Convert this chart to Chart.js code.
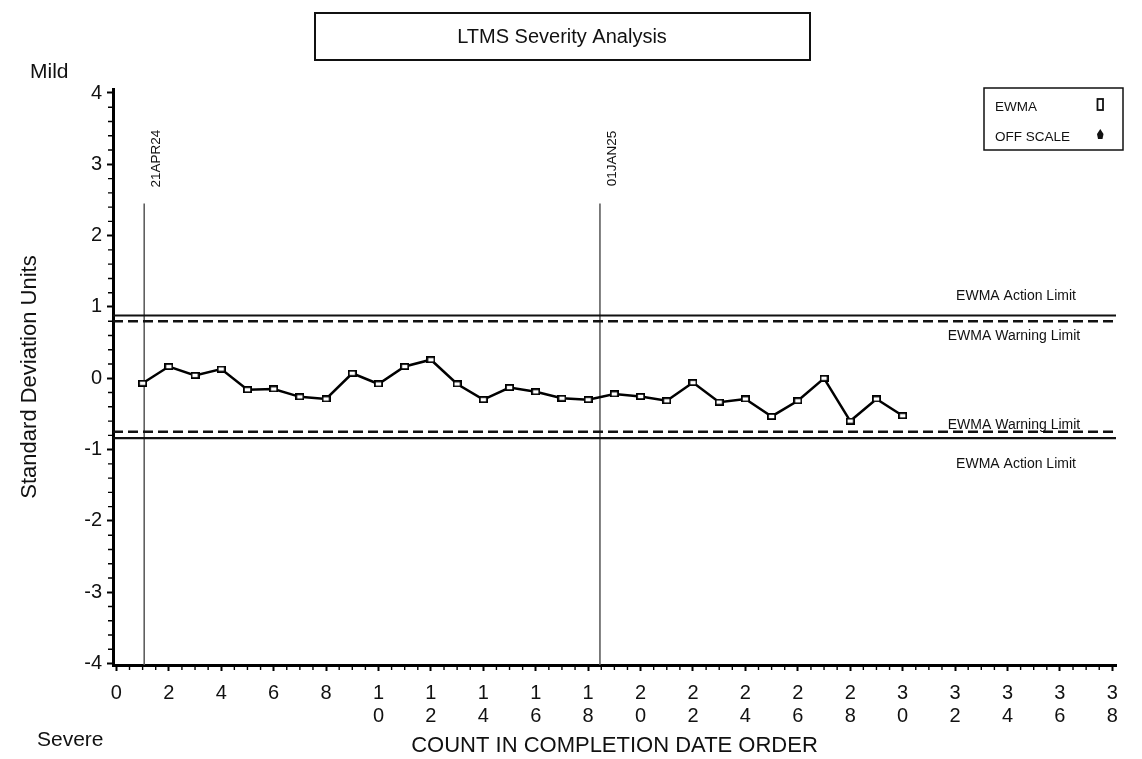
<!DOCTYPE html>
<html><head><meta charset="utf-8">
<script src="https://cdn.jsdelivr.net/npm/chart.js@4.4.1/dist/chart.umd.min.js"></script>
<style>html,body{margin:0;padding:0;background:#fff;}#wrap{position:relative;width:1142px;height:759px;}</style>
</head><body><div id="wrap"><canvas id="c"></canvas></div>
<script>
// ---- data ----
const testCounts = [1,2,3,4,5,6,7,8,9,10,11,12,13,14,15,16,17,18,19,20,21,22,23,24,25,26,27,28,29,30];
const ewmaValues = [-0.07,0.165,0.04,0.13,-0.16,-0.15,-0.26,-0.29,0.07,-0.08,0.165,0.26,-0.08,-0.30,-0.13,-0.19,-0.28,-0.30,-0.22,-0.255,-0.315,-0.06,-0.335,-0.29,-0.535,-0.315,0.00,-0.60,-0.29,-0.525];
const actionLimitUpper = 0.88;
const warningLimitUpper = 0.80;
const warningLimitLower = -0.75;
const actionLimitLower = -0.84;
const xTickValues = [0,2,4,6,8,10,12,14,16,18,20,22,24,26,28,30,32,34,36,38];
const yTickValues = [-4,-3,-2,-1,0,1,2,3,4];
const dateMarkerLabels = ['21APR24','01JAN25'];
const dateMarkerCounts = [1.06, 18.45];
const dateMarkerTop = 2.45;
const xRange = [-0.13, 38.14];
const yRange = [-4.02, 4.056];

const FONT = '"Liberation Sans", Arial, Helvetica, sans-serif';

function markerCanvas(){
  const c=document.createElement('canvas'); c.width=9; c.height=7;
  const g=c.getContext('2d');
  g.fillStyle='#fff'; g.fillRect(0,0,9,7);
  g.strokeStyle='#000'; g.lineWidth=1.8; g.strokeRect(0.9,0.9,7.2,5.2);
  return c;
}

function hLine(y, dash, width){
  return {data:[{x:xRange[0],y:y},{x:xRange[1],y:y}], borderColor:'#111', borderWidth:width,
    borderDash:dash, pointRadius:0, clip:false, order:3};
}
function vLine(x){
  return {data:[{x:x,y:yRange[0]},{x:x,y:dateMarkerTop}], borderColor:'#555', borderWidth:1.5,
    pointRadius:0, order:4};
}

const decorPlugin = {
  id:'decor',
  afterDraw(chart){
    const ctx=chart.ctx, xs=chart.scales.x, ys=chart.scales.y, ca=chart.chartArea;
    ctx.save();
    // minor ticks
    ctx.strokeStyle='#000'; ctx.lineWidth=1.4;
    ctx.beginPath();
    for(let i=0;i<=76;i++){ if(i%4===0) continue; const px=xs.getPixelForValue(i*0.5); ctx.moveTo(px,ca.bottom); ctx.lineTo(px,ca.bottom+5); }
    for(let i=-20;i<=20;i++){ if(i%5===0) continue; const py=ys.getPixelForValue(i*0.2); ctx.moveTo(ca.left,py); ctx.lineTo(ca.left-5,py); }
    ctx.stroke();
    // title box
    ctx.lineWidth=2; ctx.strokeStyle='#111';
    ctx.strokeRect(315,13,495,47);
    ctx.fillStyle='#111'; ctx.textAlign='center'; ctx.textBaseline='middle';
    ctx.font='20px '+FONT;
    ctx.fillText('LTMS Severity Analysis',562,37);
    // Mild / Severe
    ctx.textAlign='left';
    ctx.font='21px '+FONT;
    ctx.fillText('Mild',30,72);
    ctx.fillText('Severe',37,740);
    // legend box
    ctx.lineWidth=1.5; ctx.strokeRect(984,88,139,62);
    ctx.font='13.5px '+FONT;
    ctx.fillText('EWMA',995,107);
    ctx.fillText('OFF SCALE',995,137);
    ctx.lineWidth=1.8; ctx.strokeRect(1097.5,99,5.5,11);
    ctx.beginPath();
    ctx.moveTo(1100.3,129); ctx.lineTo(1103.5,134); ctx.lineTo(1102.5,139); ctx.lineTo(1098,139); ctx.lineTo(1097,134); ctx.closePath(); ctx.fill();
    // limit labels
    ctx.textAlign='center';
    ctx.font='14px '+FONT;
    const lx = ca.right-100;
    ctx.fillText('EWMA Action Limit', lx, ys.getPixelForValue(actionLimitUpper)-19.5);
    ctx.fillText('EWMA Warning Limit', lx-2, ys.getPixelForValue(warningLimitUpper)+14.5);
    ctx.fillText('EWMA Warning Limit', lx-2, ys.getPixelForValue(warningLimitLower)-6.5);
    ctx.fillText('EWMA Action Limit', lx, ys.getPixelForValue(actionLimitLower)+26);
    // date labels
    ctx.font='13.5px '+FONT;
    dateMarkerLabels.forEach((t,i)=>{
      const px=xs.getPixelForValue(dateMarkerCounts[i]);
      const py=ys.getPixelForValue(dateMarkerTop);
      ctx.save(); ctx.translate(px+12.5, py-45); ctx.rotate(-Math.PI/2);
      ctx.fillText(t,0,0); ctx.restore();
    });
    ctx.restore();
  }
};

new Chart(document.getElementById('c'), {
  type:'line',
  data:{ datasets:[
    {label:'EWMA', data:testCounts.map((x,i)=>({x:x,y:ewmaValues[i]})), borderColor:'#000', borderWidth:2.5,
      pointStyle:markerCanvas(), pointRadius:4, tension:0, order:1},
    hLine(actionLimitUpper, [], 2.2),
    hLine(warningLimitUpper, [10,5], 2.5),
    hLine(warningLimitLower, [10,5], 2.5),
    hLine(actionLimitLower, [], 2.2),
    vLine(dateMarkerCounts[0]),
    vLine(dateMarkerCounts[1])
  ]},
  options:{
    responsive:true, maintainAspectRatio:false, animation:false, devicePixelRatio:1,
    layout:{padding:{top:89,right:26,bottom:0,left:0}},
    plugins:{legend:{display:false}, title:{display:false}, tooltip:{enabled:false}},
    scales:{
      x:{type:'linear', min:xRange[0], max:xRange[1],
        afterBuildTicks:(a)=>{a.ticks=xTickValues.map(v=>({value:v}));},
        afterFit:(s)=>{s.height=94;},
        grid:{drawOnChartArea:false, drawTicks:true, tickLength:6, tickWidth:2, tickColor:'#000'},
        border:{display:true, width:3, color:'#000'},
        ticks:{autoSkip:false, maxRotation:0, padding:11, color:'#111',
          font:{family:FONT,size:20,lineHeight:1.15},
          callback:(v)=>{const s=String(Math.round(v)); return s.length>1? s.split(''): s;}},
        title:{display:true, text:'COUNT IN COMPLETION DATE ORDER', color:'#111',
          font:{family:FONT,size:22,lineHeight:1.15}, padding:{top:0,bottom:0}}
      },
      y:{type:'linear', min:yRange[0], max:yRange[1],
        afterBuildTicks:(a)=>{a.ticks=yTickValues.map(v=>({value:v}));},
        afterFit:(s)=>{s.width=113;},
        grid:{drawOnChartArea:false, drawTicks:true, tickLength:6, tickWidth:2, tickColor:'#000'},
        border:{display:true, width:3, color:'#000'},
        ticks:{padding:5, color:'#111', font:{family:FONT,size:20}, callback:(v)=>String(Math.round(v))},
        title:{display:true, text:'Standard Deviation Units', color:'#111',
          font:{family:FONT,size:22,lineHeight:1.15}, padding:{top:17,bottom:0}}
      }
    }
  },
  plugins:[decorPlugin]
});
</script>
</body></html>
